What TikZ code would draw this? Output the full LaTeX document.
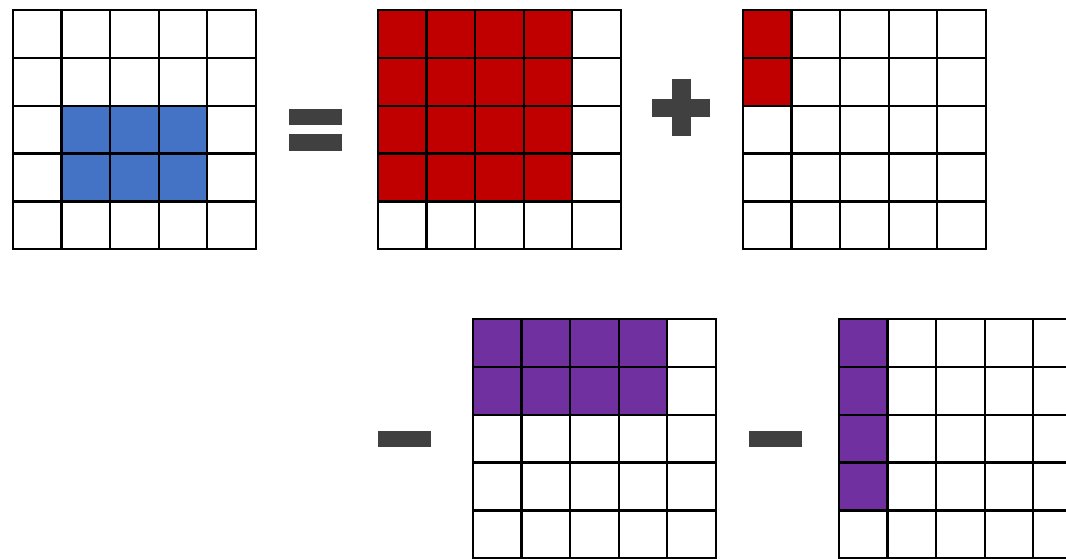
\documentclass[tikz,border=0pt]{standalone}
\definecolor{cellblue}{HTML}{4472C4}
\definecolor{cellred}{HTML}{C00000}
\definecolor{cellpurple}{HTML}{7030A0}
\definecolor{signgray}{HTML}{404040}
\begin{document}
\begin{tikzpicture}[
    x=0.5pt, y=-0.5pt,
    gridline/.style={black, line width=1.1pt, line cap=rect},
    sign/.style={fill=signgray},
]

    \def\cw{48.55}   % width of one cell
    \def\ch{47.85}   % height of one cell

    % the page, the lower grids run past its edges
    \path[use as bounding box, clip] (0,0) rectangle (1066,558);

    % =============================================================
    % Top row: blue block = red block + red column
    % =============================================================
    \begin{scope}[shift={(13,10)}]
        \fill[cellblue] (\cw,2*\ch) rectangle (4*\cw,4*\ch);
        \foreach \i in {0,...,5} {
            \draw[gridline] (\i*\cw,0) -- (\i*\cw,5*\ch);
            \draw[gridline] (0,\i*\ch) -- (5*\cw,\i*\ch);
        }
    \end{scope}

    % equals
    \fill[sign] (289,109) rectangle (342,125);
    \fill[sign] (289,134) rectangle (342,151);

    \begin{scope}[shift={(378,10)}]
        \fill[cellred] (0,0) rectangle (4*\cw,4*\ch);
        \foreach \i in {0,...,5} {
            \draw[gridline] (\i*\cw,0) -- (\i*\cw,5*\ch);
            \draw[gridline] (0,\i*\ch) -- (5*\cw,\i*\ch);
        }
    \end{scope}

    % plus
    \fill[sign] (652,99) rectangle (710,117);
    \fill[sign] (672,79) rectangle (691,136);

    \begin{scope}[shift={(743,10)}]
        \fill[cellred] (0,0) rectangle (\cw,2*\ch);
        \foreach \i in {0,...,5} {
            \draw[gridline] (\i*\cw,0) -- (\i*\cw,5*\ch);
            \draw[gridline] (0,\i*\ch) -- (5*\cw,\i*\ch);
        }
    \end{scope}

    % =============================================================
    % Bottom row: - purple block - purple column
    % =============================================================
    \fill[sign] (378,431) rectangle (431,447);

    \begin{scope}[shift={(473,319)}]
        \fill[cellpurple] (0,0) rectangle (4*\cw,2*\ch);
        \foreach \i in {0,...,5} {
            \draw[gridline] (\i*\cw,0) -- (\i*\cw,5*\ch);
            \draw[gridline] (0,\i*\ch) -- (5*\cw,\i*\ch);
        }
    \end{scope}

    \fill[sign] (749,431) rectangle (802,447);

    \begin{scope}[shift={(839,319)}]
        \fill[cellpurple] (0,0) rectangle (\cw,4*\ch);
        \foreach \i in {0,...,5} {
            \draw[gridline] (\i*\cw,0) -- (\i*\cw,5*\ch);
            \draw[gridline] (0,\i*\ch) -- (5*\cw,\i*\ch);
        }
    \end{scope}

\end{tikzpicture}
\end{document}
